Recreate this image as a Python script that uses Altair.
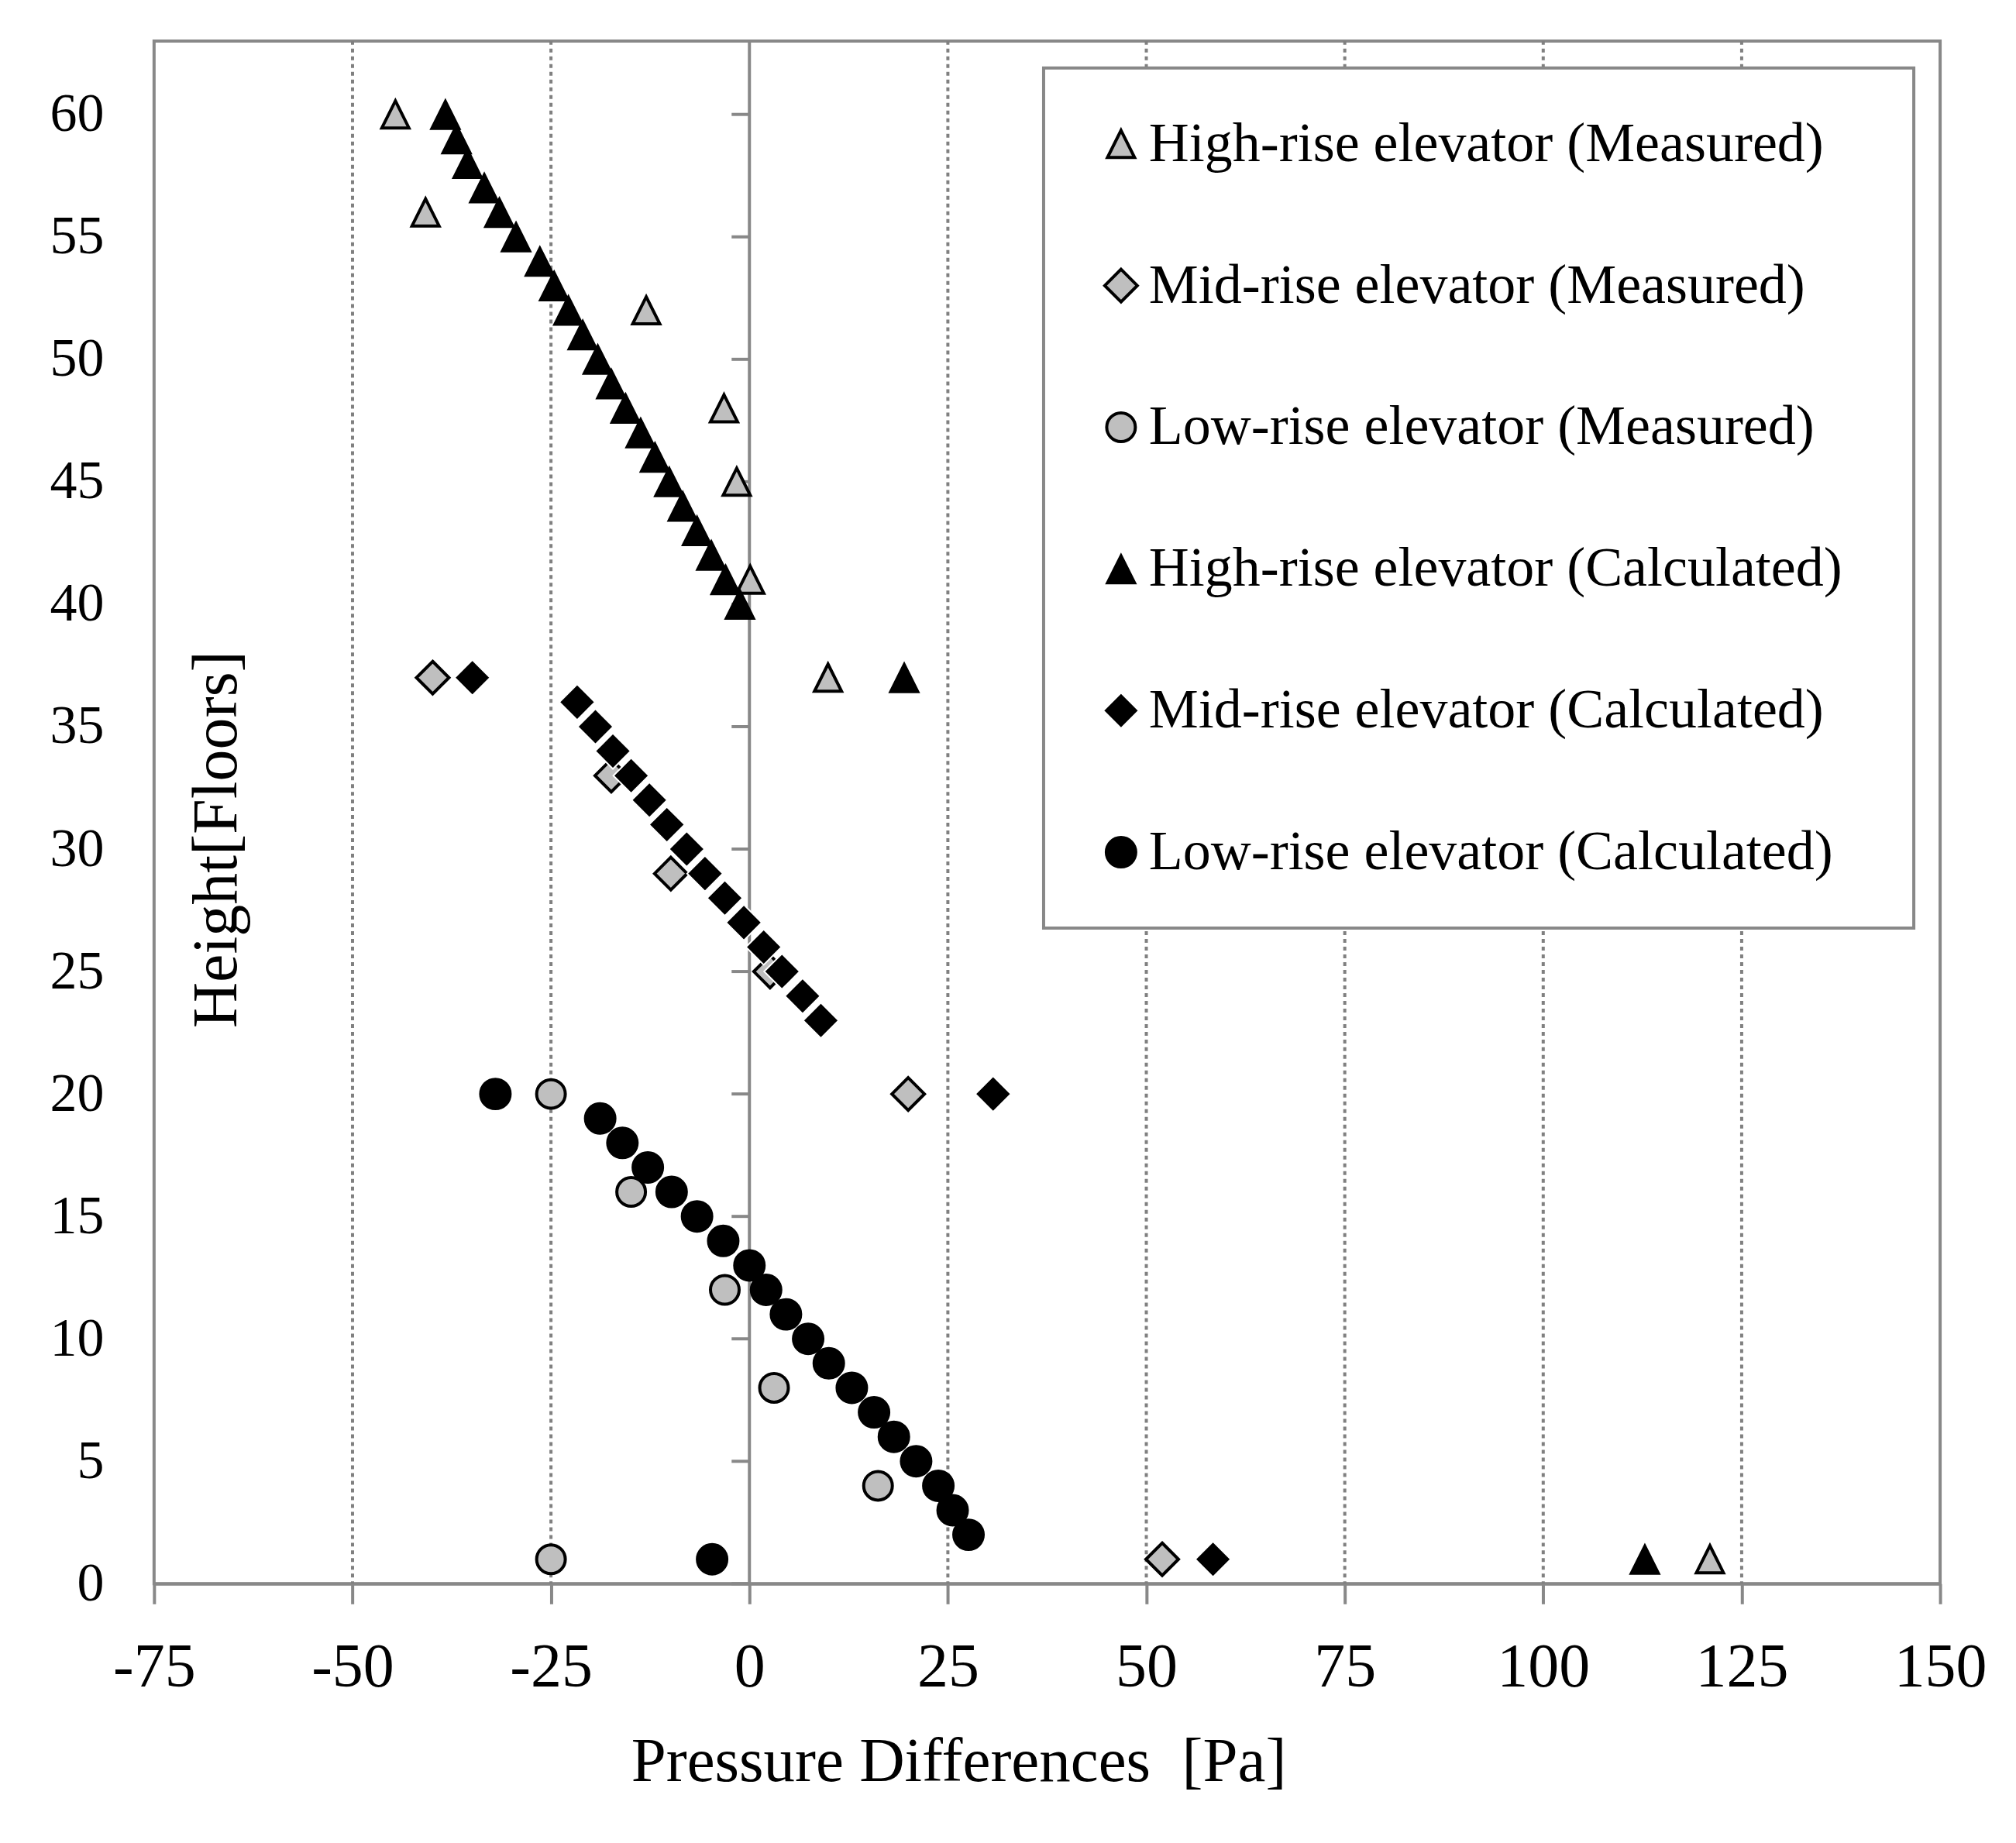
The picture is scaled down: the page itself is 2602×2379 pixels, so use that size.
import altair as alt
import pandas as pd

FONT = "Liberation Serif"
AXIS_GRAY = "#888888"

SERIES = [
    "High-rise elevator (Measured)",
    "Mid-rise elevator (Measured)",
    "Low-rise elevator (Measured)",
    "High-rise elevator (Calculated)",
    "Mid-rise elevator (Calculated)",
    "Low-rise elevator (Calculated)",
]

# ---- data (pressure difference [Pa], floor) ----
high_meas_floor = [60, 56, 52, 48, 45, 41, 37, 1]
high_meas_pa = [-44.6, -40.8, -13.0, -3.2, -1.6, 0.1, 9.9, 121.0]

mid_meas_floor = [37, 33, 29, 25, 20, 1]
mid_meas_pa = [-39.9, -17.4, -9.9, 2.6, 20.0, 52.0]

low_meas_floor = [20, 16, 12, 8, 4, 1]
low_meas_pa = [-25.0, -14.9, -3.1, 3.1, 16.2, -25.0]

high_calc_floor = [60, 59, 58, 57, 56, 55, 54, 53, 52, 51, 50,
                   49, 48, 47, 46, 45, 44, 43, 42, 41, 40, 37, 1]
high_calc_pa = [-38.3, -36.9, -35.5, -33.4, -31.5, -29.4, -26.4, -24.6, -22.8, -21.0, -19.1,
                -17.4, -15.6, -13.7, -11.9, -10.1, -8.4, -6.6, -4.8, -3.0, -1.2, 19.5, 112.8]

mid_calc_floor = [37, 36, 35, 34, 33, 32, 31, 30, 29, 28, 27, 26, 25, 24, 23, 20, 1]
mid_calc_pa = [-34.9, -21.7, -19.4, -17.2, -14.9, -12.6, -10.4, -7.9, -5.6, -3.1,
               -0.7, 1.8, 4.1, 6.7, 9.0, 30.7, 58.4]

low_calc_floor = [20, 19, 18, 17, 16, 15, 14, 13, 12, 11, 10, 9, 8, 7, 6, 5, 4, 3, 2, 1]
low_calc_pa = [-32.0, -18.8, -16.0, -12.8, -9.8, -6.6, -3.3, 0.0, 2.1, 4.6, 7.4,
               10.0, 12.9, 15.7, 18.2, 21.0, 23.8, 25.6, 27.6, -4.7]

x_ticks = [-75, -50, -25, 0, 25, 50, 75, 100, 125, 150]
y_ticks = [0, 5, 10, 15, 20, 25, 30, 35, 40, 45, 50, 55, 60]
grid_x = [-50, -25, 25, 50, 75, 100, 125]

# ---- tables ----
rows = []
for name, floors, pas in zip(
    SERIES,
    [high_meas_floor, mid_meas_floor, low_meas_floor, high_calc_floor, mid_calc_floor, low_calc_floor],
    [high_meas_pa, mid_meas_pa, low_meas_pa, high_calc_pa, mid_calc_pa, low_calc_pa],
):
    for f, p in zip(floors, pas):
        rows.append({"series": name, "floor": f, "pa": p})
df = pd.DataFrame(rows)

df_grid = pd.DataFrame({"pa": grid_x})
df_zero = pd.DataFrame({"pa": [0]})
df_yticks = pd.DataFrame({"pa": [0] * len(y_ticks), "floor": y_ticks})

# ---- scales / styles ----
xscale = alt.Scale(domain=[-75, 150], nice=False, zero=False)
yscale = alt.Scale(domain=[0, 63], nice=False, zero=False)

TRI = "M0,-1L1,1L-1,1Z"
DIA = "M0,-1L1,0L0,1L-1,0Z"
shape_range = [TRI, DIA, "circle", TRI, DIA, "circle"]
fill_range = ["#bfbfbf", "#bfbfbf", "#bfbfbf", "#000000", "#000000", "#000000"]
stroke_range = ["#000000", "#000000", "#000000", "#000000", "#ffffff", "#000000"]
size_range = [1225, 1764, 1369, 1444, 2116, 1600]
sw_range = [4, 4, 4, 2, 2, 2]

LEG_TITLE = "\u00a0"

xaxis = alt.Axis(
    values=x_ticks, grid=False,
    domainColor=AXIS_GRAY, domainWidth=4,
    tickColor=AXIS_GRAY, tickWidth=4, tickSize=26,
    labelFont=FONT, labelFontSize=80, labelColor="black", labelPadding=43,
    labelExpr="'' + datum.value", labelFlush=False, labelOverlap=False,
    title="Pressure Differences\u00a0 [Pa]",
    titleFont=FONT, titleFontSize=81, titleFontWeight="normal", titleColor="black",
    titleX=1039, titleY=254, titleAlign="center", titleBaseline="alphabetic",
)
yaxis = alt.Axis(
    values=y_ticks, grid=False, domain=False, ticks=False, tickSize=0,
    labelFont=FONT, labelFontSize=70, labelColor="black", labelPadding=65,
    labelFlush=False, labelOverlap=False,
    title="Height[Floors]",
    titleFont=FONT, titleFontSize=82, titleFontWeight="normal", titleColor="black",
    titleAngle=270, titleX=106, titleY=1031, titleAlign="center", titleBaseline="alphabetic",
)

X = alt.X("pa:Q", scale=xscale, axis=xaxis)
Y = alt.Y("floor:Q", scale=yscale, axis=yaxis)

grid = alt.Chart(df_grid).mark_rule(
    stroke="#808080", strokeWidth=4, strokeDash=[5, 5]
).encode(x=X)

zero_line = alt.Chart(df_zero).mark_rule(
    stroke=AXIS_GRAY, strokeWidth=4
).encode(x=X)

yticks = alt.Chart(df_yticks).mark_rule(
    stroke=AXIS_GRAY, strokeWidth=4, xOffset=-23
).encode(x=X, x2="pa:Q", y=Y)

points = alt.Chart(df).mark_point(filled=True, opacity=1).encode(
    x=X,
    y=Y,
    shape=alt.Shape("series:N", scale=alt.Scale(domain=SERIES, range=shape_range), title=LEG_TITLE),
    fill=alt.Fill("series:N", scale=alt.Scale(domain=SERIES, range=fill_range), title=LEG_TITLE),
    stroke=alt.Stroke("series:N", scale=alt.Scale(domain=SERIES, range=stroke_range), title=LEG_TITLE),
    size=alt.Size("series:N", scale=alt.Scale(type="ordinal", domain=SERIES, range=size_range), title=LEG_TITLE),
    strokeWidth=alt.StrokeWidth("series:N", scale=alt.Scale(type="ordinal", domain=SERIES, range=sw_range), title=LEG_TITLE),
)

chart = alt.layer(grid, zero_line, yticks, points).properties(
    width=2307,
    height=1993,
    autosize=alt.AutoSizeParams(type="none"),
    padding={"left": 191, "top": 44, "right": 90, "bottom": 320},
    background="white",
).configure_view(
    stroke=AXIS_GRAY, strokeWidth=4
).configure_legend(
    orient="none", legendX=1149, legendY=35,
    padding=62, symbolOffset=2, rowPadding=111, labelOffset=0,
    labelFont=FONT, labelFontSize=72, labelColor="black", labelLimit=3000,
    titleOrient="right", titlePadding=30, titleFontSize=4, titleFont=FONT,
    strokeColor=AXIS_GRAY, strokeWidth=4, fillColor="white",
)

chart.save("out.html", embed_options={"renderer": "svg", "actions": False})
